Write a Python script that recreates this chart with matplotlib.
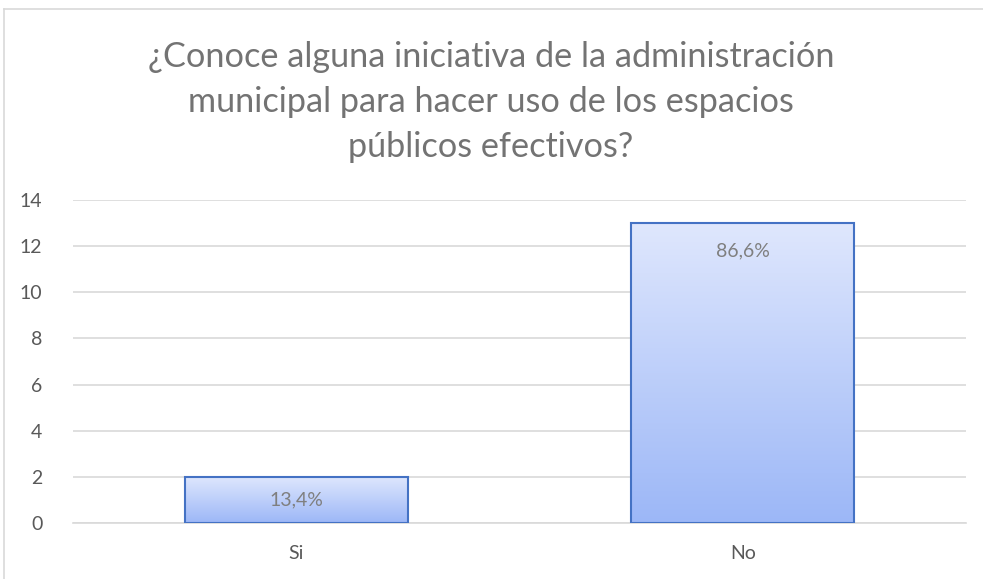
import numpy as np
import matplotlib
matplotlib.use("Agg")
import matplotlib.pyplot as plt
from matplotlib.colors import LinearSegmentedColormap
from matplotlib.lines import Line2D

TITLE = "¿Conoce alguna iniciativa de la administración\nmunicipal para hacer uso de los espacios\npúblicos efectivos?"
categories = ["Si", "No"]
counts = [2, 13]
pct_labels = ["13,4%", "86,6%"]
y_ticks = [0, 2, 4, 6, 8, 10, 12, 14]

plt.rcParams["font.family"] = ["Lato", "DejaVu Sans"]

fig = plt.figure(figsize=(9.83, 5.79), dpi=100)
W, H = 983, 579
ax = fig.add_axes([73 / W, 1 - 523 / H, (966 - 73) / W, (523 - 200) / H])

# chart frame (top and left edges only visible)
fig.add_artist(Line2D([4 / W, 1.0], [1 - 9 / H, 1 - 9 / H], transform=fig.transFigure,
                      color="#d9d9d9", linewidth=1.2))
fig.add_artist(Line2D([4 / W, 4 / W], [0, 1 - 9 / H], transform=fig.transFigure,
                      color="#d9d9d9", linewidth=1.2))

x = np.arange(len(categories))
bars = ax.bar(x, counts, width=0.5, facecolor="none", edgecolor="#4472c4",
              linewidth=1.5, zorder=3)

cmap = LinearSegmentedColormap.from_list("grad", ["#9cb7f7", "#dfe7fd"])
grad = np.linspace(0, 1, 256).reshape(-1, 1)
for b in bars:
    x0, y0 = b.get_x(), b.get_y()
    im = ax.imshow(grad, cmap=cmap, aspect="auto", origin="lower",
                   extent=(x0, x0 + b.get_width(), y0, y0 + b.get_height()),
                   zorder=2)
    im.set_clip_path(b)

# small bar: label centred; tall bar: label inside end
label_y = [counts[0] / 2, counts[1] - 1.22]
for xi, ly, lab in zip(x, label_y, pct_labels):
    ax.text(xi, ly, lab, ha="center", va="center", fontsize=14,
            color="#7f7f7f", zorder=4)

ax.set_xlim(-0.5, 1.5)
ax.set_ylim(0, 14)
ax.set_yticks(y_ticks)
ax.set_xticks(x)
ax.set_xticklabels(categories)
ax.tick_params(length=0, labelsize=14, labelcolor="#595959")
ax.tick_params(axis="y", pad=22)
ax.tick_params(axis="x", pad=16)
ax.grid(axis="y", color="#d9d9d9", linewidth=1.2, zorder=0)
ax.set_axisbelow(True)
for s in ax.spines.values():
    s.set_visible(False)
ax.spines["bottom"].set_visible(True)
ax.spines["bottom"].set_color("#d9d9d9")
ax.spines["bottom"].set_linewidth(1.2)

fig.text(491 / W, 1 - 102 / H, TITLE, ha="center", va="center",
         fontsize=24.7, color="#737373", linespacing=1.5)

fig.savefig("out.png", dpi=100)
